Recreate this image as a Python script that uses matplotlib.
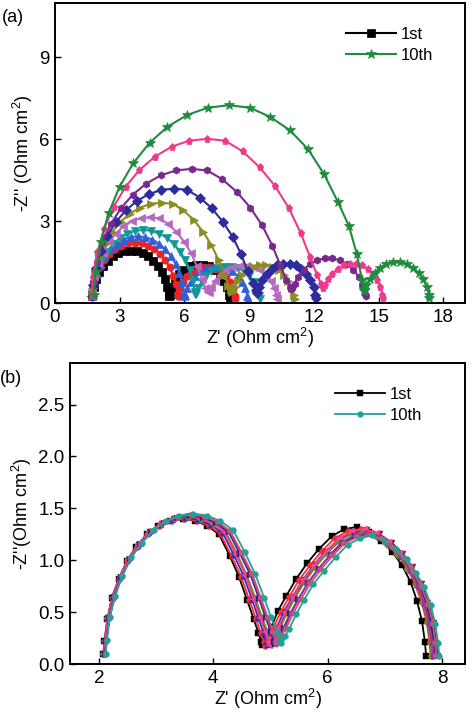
import numpy as np
import matplotlib
matplotlib.use("Agg")
import matplotlib.pyplot as plt

plt.rcParams['font.family'] = ['Liberation Sans', 'DejaVu Sans']
plt.rcParams['mathtext.fontset'] = 'custom'
plt.rcParams['mathtext.rm'] = 'Liberation Sans'

# ---------------- panel (a): 1st ... 10th cycle ----------------
a_labels = ["1st", "2nd", "3rd", "4th", "5th", "6th", "7th", "8th", "9th", "10th"]
a_colors = ["#000000", "#ee2222", "#3060d8", "#109898", "#b868c0",
            "#8c8c22", "#2c2c9c", "#7a2890", "#ee3a8c", "#1e8c3c"]
a_markers = ["s", "o", "^", "v", "<", ">", "D", "h", "p", "*"]

a_re = [
    [1.70, 1.72, 1.79, 1.90, 2.04, 2.23, 2.44, 2.68, 2.94, 3.22, 3.50, 3.78, 4.06, 4.32, 4.56, 4.77, 4.96, 5.10, 5.21, 5.28, 5.30,
     5.33, 5.42, 5.57, 5.76, 6.00, 6.27, 6.55, 6.85, 7.13, 7.40, 7.64, 7.83, 7.98, 8.07, 8.10],
    [1.70, 1.72, 1.80, 1.92, 2.08, 2.29, 2.52, 2.79, 3.08, 3.39, 3.70, 4.01, 4.32, 4.61, 4.88, 5.11, 5.32, 5.48, 5.60, 5.68, 5.70,
     5.73, 5.81, 5.95, 6.14, 6.36, 6.62, 6.89, 7.16, 7.43, 7.69, 7.91, 8.10, 8.24, 8.32, 8.35],
    [1.70, 1.73, 1.81, 1.93, 2.11, 2.33, 2.59, 2.87, 3.19, 3.52, 3.85, 4.18, 4.51, 4.83, 5.11, 5.37, 5.59, 5.77, 5.90, 5.97, 6.00,
     6.03, 6.13, 6.28, 6.49, 6.74, 7.02, 7.32, 7.63, 7.93, 8.21, 8.46, 8.67, 8.82, 8.92, 8.95],
    [1.70, 1.73, 1.82, 1.96, 2.16, 2.40, 2.69, 3.01, 3.36, 3.73, 4.10, 4.47, 4.84, 5.19, 5.51, 5.80, 6.04, 6.24, 6.38, 6.47, 6.50,
     6.53, 6.63, 6.79, 7.00, 7.25, 7.54, 7.84, 8.16, 8.46, 8.75, 9.00, 9.21, 9.37, 9.47, 9.50],
    [1.70, 1.73, 1.83, 1.99, 2.22, 2.49, 2.81, 3.17, 3.57, 3.98, 4.40, 4.82, 5.23, 5.63, 5.99, 6.31, 6.58, 6.81, 6.97, 7.07, 7.10,
     7.14, 7.24, 7.41, 7.63, 7.90, 8.21, 8.53, 8.87, 9.19, 9.50, 9.77, 9.99, 10.16, 10.26, 10.30],
    [1.70, 1.74, 1.86, 2.05, 2.32, 2.65, 3.04, 3.47, 3.95, 4.44, 4.95, 5.46, 5.95, 6.43, 6.86, 7.25, 7.58, 7.85, 8.04, 8.16, 8.20,
     8.23, 8.33, 8.48, 8.68, 8.93, 9.20, 9.50, 9.80, 10.10, 10.38, 10.62, 10.82, 10.98, 11.07, 11.10],
    [1.70, 1.75, 1.89, 2.12, 2.43, 2.82, 3.28, 3.79, 4.34, 4.93, 5.53, 6.12, 6.71, 7.26, 7.77, 8.23, 8.62, 8.93, 9.16, 9.30, 9.35,
     9.38, 9.47, 9.61, 9.81, 10.04, 10.30, 10.58, 10.87, 11.15, 11.41, 11.65, 11.84, 11.98, 12.07, 12.10],
    [1.70, 1.76, 1.93, 2.20, 2.58, 3.06, 3.61, 4.23, 4.90, 5.60, 6.33, 7.05, 7.75, 8.43, 9.05, 9.60, 10.07, 10.45, 10.72, 10.90, 10.95,
     10.99, 11.10, 11.28, 11.52, 11.81, 12.14, 12.49, 12.86, 13.21, 13.54, 13.83, 14.07, 14.25, 14.36, 14.40],
    [1.70, 1.76, 1.96, 2.28, 2.72, 3.27, 3.90, 4.62, 5.40, 6.22, 7.05, 7.88, 8.70, 9.48, 10.20, 10.83, 11.38, 11.82, 12.14, 12.33, 12.40,
     12.43, 12.52, 12.67, 12.86, 13.10, 13.37, 13.65, 13.95, 14.23, 14.50, 14.74, 14.93, 15.08, 15.17, 15.20],
    [1.80, 1.88, 2.11, 2.48, 2.99, 3.63, 4.38, 5.21, 6.12, 7.08, 8.05, 9.03, 9.98, 10.89, 11.73, 12.47, 13.11, 13.62, 13.99, 14.23, 14.30,
     14.33, 14.43, 14.59, 14.81, 15.06, 15.35, 15.67, 15.99, 16.30, 16.59, 16.85, 17.06, 17.22, 17.32, 17.35],
]
a_im = [
    [0.25, 0.30, 0.59, 0.87, 1.13, 1.36, 1.55, 1.71, 1.83, 1.90, 1.92, 1.90, 1.83, 1.71, 1.55, 1.36, 1.13, 0.87, 0.59, 0.30, 0.25,
     0.30, 0.58, 0.83, 1.06, 1.23, 1.35, 1.41, 1.41, 1.35, 1.23, 1.06, 0.83, 0.58, 0.30, 0.15],
    [0.25, 0.35, 0.69, 1.01, 1.31, 1.57, 1.80, 1.98, 2.11, 2.19, 2.22, 2.19, 2.11, 1.98, 1.80, 1.57, 1.31, 1.01, 0.69, 0.35, 0.25,
     0.27, 0.54, 0.78, 0.98, 1.14, 1.26, 1.31, 1.31, 1.26, 1.14, 0.98, 0.78, 0.54, 0.27, 0.15],
    [0.25, 0.38, 0.76, 1.11, 1.44, 1.73, 1.98, 2.18, 2.33, 2.42, 2.45, 2.42, 2.33, 2.18, 1.98, 1.73, 1.44, 1.11, 0.76, 0.38, 0.28,
     0.30, 0.55, 0.79, 1.00, 1.17, 1.28, 1.34, 1.34, 1.28, 1.17, 1.00, 0.79, 0.55, 0.28, 0.15],
    [0.25, 0.42, 0.83, 1.22, 1.58, 1.89, 2.17, 2.39, 2.55, 2.65, 2.68, 2.65, 2.55, 2.39, 2.17, 1.89, 1.58, 1.22, 0.83, 0.42, 0.32,
     0.34, 0.55, 0.79, 1.00, 1.17, 1.28, 1.34, 1.34, 1.28, 1.17, 1.00, 0.79, 0.55, 0.28, 0.15],
    [0.25, 0.49, 0.97, 1.43, 1.85, 2.23, 2.55, 2.81, 3.00, 3.11, 3.15, 3.11, 2.91, 2.61, 2.24, 1.83, 1.35, 0.89, 0.54, 0.45, 0.40,
     0.42, 0.58, 0.81, 1.03, 1.20, 1.31, 1.37, 1.37, 1.31, 1.20, 1.03, 0.81, 0.56, 0.29, 0.15],
    [0.25, 0.57, 1.14, 1.67, 2.16, 2.60, 2.98, 3.28, 3.50, 3.64, 3.68, 3.64, 3.40, 3.05, 2.62, 2.13, 1.58, 1.04, 0.64, 0.48, 0.42,
     0.45, 0.60, 0.82, 1.04, 1.21, 1.33, 1.39, 1.39, 1.33, 1.21, 1.04, 0.82, 0.57, 0.29, 0.15],
    [0.25, 0.66, 1.30, 1.91, 2.47, 2.97, 3.40, 3.74, 3.99, 4.15, 4.20, 4.15, 3.87, 3.48, 2.99, 2.44, 1.80, 1.18, 0.73, 0.50, 0.37,
     0.40, 0.60, 0.85, 1.08, 1.26, 1.38, 1.44, 1.44, 1.38, 1.26, 1.08, 0.85, 0.59, 0.30, 0.18],
    [0.25, 0.77, 1.52, 2.23, 2.89, 3.48, 3.98, 4.38, 4.68, 4.86, 4.92, 4.86, 4.54, 4.07, 3.50, 2.85, 2.11, 1.38, 0.85, 0.58, 0.52,
     0.56, 0.72, 0.97, 1.23, 1.43, 1.57, 1.64, 1.64, 1.57, 1.43, 1.23, 0.97, 0.67, 0.34, 0.25],
    [0.25, 0.94, 1.86, 2.73, 3.54, 4.26, 4.87, 5.36, 5.73, 5.95, 6.02, 5.95, 5.56, 4.98, 4.29, 3.49, 2.58, 1.69, 1.04, 0.70, 0.55,
     0.60, 0.68, 0.87, 1.08, 1.26, 1.38, 1.44, 1.44, 1.38, 1.26, 1.08, 0.85, 0.59, 0.30, 0.20],
    [0.30, 1.13, 2.24, 3.29, 4.26, 5.13, 5.87, 6.46, 6.89, 7.16, 7.25, 7.16, 6.82, 6.33, 5.64, 4.72, 3.71, 2.83, 1.79, 0.85, 0.45,
     0.50, 0.65, 0.88, 1.11, 1.30, 1.43, 1.49, 1.49, 1.43, 1.30, 1.11, 0.88, 0.61, 0.31, 0.20],
]

# ---------------- panel (b): 1st ... 10th cycle ----------------
b_labels = ["1st", "2nd", "3rd", "4th", "5th", "6th", "7th", "8th", "9th", "10th"]
b_colors = ["#000000", "#ff2a2a", "#2233cc", "#8b1a2a", "#6e8e24",
            "#ff3c96", "#1c2488", "#9a30aa", "#d0506a", "#24a09a"]
b_markers = ["s", "o", "^", "v", "D", "<", ">", "h", "p", "o"]

b_re = [
    [2.08, 2.10, 2.15, 2.23, 2.35, 2.49, 2.65, 2.84, 3.04, 3.25, 3.47, 3.69, 3.90, 4.10, 4.29, 4.45, 4.59, 4.71, 4.79, 4.84, 4.86,
     4.88, 4.93, 5.02, 5.13, 5.28, 5.45, 5.64, 5.85, 6.07, 6.29, 6.51, 6.73, 6.94, 7.13, 7.30, 7.45, 7.56, 7.65, 7.70, 7.72],
    [2.08, 2.10, 2.15, 2.23, 2.35, 2.49, 2.66, 2.85, 3.05, 3.27, 3.49, 3.71, 3.93, 4.13, 4.32, 4.49, 4.63, 4.75, 4.83, 4.88, 4.90,
     4.92, 4.97, 5.06, 5.18, 5.33, 5.50, 5.69, 5.90, 6.12, 6.35, 6.58, 6.80, 7.01, 7.20, 7.38, 7.52, 7.64, 7.73, 7.78, 7.80],
    [2.09, 2.11, 2.16, 2.25, 2.36, 2.51, 2.68, 2.87, 3.08, 3.30, 3.52, 3.74, 3.96, 4.17, 4.36, 4.53, 4.68, 4.79, 4.88, 4.93, 4.95,
     4.97, 5.02, 5.11, 5.23, 5.38, 5.55, 5.74, 5.95, 6.17, 6.40, 6.63, 6.85, 7.06, 7.25, 7.43, 7.57, 7.69, 7.78, 7.83, 7.85],
    [2.10, 2.12, 2.17, 2.26, 2.38, 2.53, 2.70, 2.89, 3.10, 3.32, 3.55, 3.78, 4.00, 4.21, 4.40, 4.58, 4.72, 4.84, 4.93, 4.98, 5.00,
     5.02, 5.07, 5.16, 5.28, 5.43, 5.60, 5.80, 6.01, 6.23, 6.46, 6.69, 6.91, 7.12, 7.32, 7.49, 7.64, 7.76, 7.85, 7.90, 7.92],
    [2.10, 2.12, 2.17, 2.26, 2.38, 2.53, 2.70, 2.90, 3.11, 3.33, 3.56, 3.79, 4.01, 4.22, 4.42, 4.59, 4.74, 4.86, 4.95, 5.00, 5.02,
     5.04, 5.09, 5.17, 5.29, 5.43, 5.60, 5.78, 5.99, 6.20, 6.42, 6.64, 6.85, 7.06, 7.24, 7.41, 7.56, 7.67, 7.75, 7.80, 7.82],
    [2.09, 2.11, 2.16, 2.25, 2.37, 2.51, 2.69, 2.88, 3.09, 3.31, 3.54, 3.76, 3.98, 4.19, 4.39, 4.56, 4.70, 4.82, 4.91, 4.96, 4.98,
     5.00, 5.05, 5.14, 5.26, 5.40, 5.57, 5.77, 5.98, 6.20, 6.42, 6.65, 6.86, 7.07, 7.27, 7.44, 7.59, 7.71, 7.80, 7.84, 7.86],
    [2.11, 2.13, 2.18, 2.27, 2.39, 2.55, 2.72, 2.92, 3.14, 3.36, 3.60, 3.83, 4.05, 4.27, 4.47, 4.65, 4.80, 4.92, 5.01, 5.06, 5.08,
     5.10, 5.15, 5.23, 5.35, 5.49, 5.66, 5.84, 6.05, 6.26, 6.48, 6.70, 6.91, 7.12, 7.30, 7.47, 7.62, 7.73, 7.81, 7.86, 7.88],
    [2.11, 2.13, 2.18, 2.27, 2.40, 2.55, 2.73, 2.93, 3.14, 3.37, 3.61, 3.84, 4.07, 4.28, 4.48, 4.66, 4.81, 4.94, 5.03, 5.08, 5.10,
     5.12, 5.17, 5.25, 5.36, 5.50, 5.66, 5.85, 6.05, 6.26, 6.47, 6.68, 6.89, 7.09, 7.28, 7.44, 7.58, 7.69, 7.77, 7.82, 7.84],
    [2.12, 2.14, 2.19, 2.28, 2.41, 2.56, 2.74, 2.94, 3.16, 3.39, 3.62, 3.85, 4.08, 4.30, 4.50, 4.68, 4.83, 4.96, 5.05, 5.10, 5.12,
     5.14, 5.19, 5.27, 5.39, 5.53, 5.69, 5.88, 6.08, 6.29, 6.51, 6.73, 6.94, 7.14, 7.33, 7.49, 7.64, 7.76, 7.84, 7.88, 7.90],
    [2.12, 2.14, 2.19, 2.29, 2.41, 2.57, 2.75, 2.96, 3.18, 3.41, 3.65, 3.89, 4.12, 4.35, 4.55, 4.73, 4.89, 5.01, 5.11, 5.16, 5.18,
     5.20, 5.25, 5.33, 5.45, 5.59, 5.75, 5.94, 6.14, 6.35, 6.57, 6.78, 6.99, 7.19, 7.38, 7.54, 7.69, 7.80, 7.88, 7.93, 7.95],
]
b_im = [
    [0.10, 0.22, 0.43, 0.64, 0.82, 0.99, 1.13, 1.25, 1.33, 1.38, 1.40, 1.38, 1.33, 1.25, 1.04, 0.84, 0.62, 0.43, 0.30, 0.21, 0.18,
     0.25, 0.29, 0.36, 0.51, 0.66, 0.82, 0.97, 1.11, 1.23, 1.30, 1.32, 1.27, 1.19, 1.08, 0.95, 0.79, 0.61, 0.41, 0.21, 0.08],
    [0.10, 0.22, 0.43, 0.64, 0.82, 0.99, 1.13, 1.25, 1.33, 1.38, 1.40, 1.38, 1.33, 1.25, 1.04, 0.84, 0.62, 0.43, 0.30, 0.21, 0.17,
     0.25, 0.29, 0.36, 0.50, 0.65, 0.81, 0.95, 1.09, 1.21, 1.28, 1.30, 1.26, 1.18, 1.07, 0.93, 0.78, 0.60, 0.41, 0.21, 0.08],
    [0.10, 0.22, 0.44, 0.64, 0.83, 1.00, 1.14, 1.26, 1.34, 1.39, 1.41, 1.39, 1.34, 1.26, 1.05, 0.85, 0.62, 0.44, 0.30, 0.21, 0.18,
     0.25, 0.28, 0.35, 0.50, 0.64, 0.80, 0.94, 1.08, 1.19, 1.26, 1.28, 1.24, 1.16, 1.05, 0.92, 0.76, 0.59, 0.40, 0.20, 0.08],
    [0.10, 0.22, 0.44, 0.64, 0.83, 1.00, 1.15, 1.27, 1.35, 1.40, 1.42, 1.40, 1.35, 1.27, 1.06, 0.85, 0.63, 0.44, 0.31, 0.21, 0.18,
     0.25, 0.28, 0.36, 0.50, 0.65, 0.81, 0.95, 1.08, 1.20, 1.27, 1.29, 1.25, 1.17, 1.06, 0.93, 0.77, 0.59, 0.40, 0.20, 0.08],
    [0.10, 0.22, 0.44, 0.64, 0.83, 1.00, 1.15, 1.27, 1.35, 1.40, 1.42, 1.40, 1.35, 1.27, 1.06, 0.85, 0.63, 0.44, 0.31, 0.21, 0.18,
     0.25, 0.28, 0.35, 0.49, 0.64, 0.79, 0.93, 1.07, 1.19, 1.25, 1.27, 1.23, 1.15, 1.04, 0.91, 0.76, 0.59, 0.40, 0.20, 0.08],
    [0.10, 0.22, 0.44, 0.65, 0.84, 1.01, 1.16, 1.27, 1.36, 1.41, 1.43, 1.41, 1.36, 1.27, 1.06, 0.86, 0.63, 0.44, 0.31, 0.21, 0.18,
     0.25, 0.29, 0.36, 0.50, 0.65, 0.81, 0.95, 1.09, 1.21, 1.28, 1.30, 1.26, 1.18, 1.07, 0.93, 0.78, 0.60, 0.41, 0.21, 0.08],
    [0.10, 0.22, 0.44, 0.65, 0.84, 1.01, 1.16, 1.27, 1.36, 1.41, 1.43, 1.41, 1.36, 1.27, 1.06, 0.86, 0.63, 0.44, 0.31, 0.21, 0.19,
     0.25, 0.27, 0.35, 0.49, 0.63, 0.78, 0.92, 1.05, 1.17, 1.23, 1.25, 1.21, 1.13, 1.03, 0.90, 0.75, 0.58, 0.39, 0.20, 0.08],
    [0.10, 0.22, 0.44, 0.65, 0.85, 1.02, 1.16, 1.28, 1.37, 1.42, 1.44, 1.42, 1.37, 1.28, 1.07, 0.87, 0.64, 0.44, 0.31, 0.21, 0.19,
     0.25, 0.28, 0.35, 0.49, 0.63, 0.79, 0.92, 1.06, 1.18, 1.24, 1.26, 1.22, 1.14, 1.04, 0.90, 0.75, 0.58, 0.40, 0.20, 0.08],
    [0.10, 0.22, 0.44, 0.65, 0.85, 1.02, 1.16, 1.28, 1.37, 1.42, 1.44, 1.42, 1.37, 1.28, 1.07, 0.87, 0.64, 0.44, 0.31, 0.21, 0.19,
     0.25, 0.27, 0.34, 0.48, 0.62, 0.77, 0.91, 1.04, 1.16, 1.22, 1.24, 1.20, 1.12, 1.02, 0.89, 0.74, 0.57, 0.39, 0.20, 0.08],
    [0.10, 0.23, 0.45, 0.66, 0.85, 1.03, 1.17, 1.29, 1.38, 1.43, 1.45, 1.43, 1.38, 1.29, 1.08, 0.87, 0.64, 0.45, 0.31, 0.21, 0.20,
     0.25, 0.27, 0.34, 0.48, 0.62, 0.77, 0.90, 1.03, 1.15, 1.21, 1.24, 1.19, 1.11, 1.01, 0.88, 0.74, 0.57, 0.39, 0.20, 0.08],
]

fig = plt.figure(figsize=(4.74, 7.15), dpi=100)
ax1 = fig.add_axes([0.116, 0.576, 0.865, 0.420])
ax2 = fig.add_axes([0.148, 0.0713, 0.833, 0.421])

lines_a = []
for i in range(10):
    ms = 7.0 if a_markers[i] == "*" else 5.2
    l, = ax1.plot(a_re[i], a_im[i], color=a_colors[i], marker=a_markers[i],
                  ms=ms, lw=1.5, mew=0.5, label=a_labels[i])
    lines_a.append(l)

lines_b = []
for i in range(10):
    l, = ax2.plot(b_re[i], b_im[i], color=b_colors[i], marker=b_markers[i],
                  ms=4.2, lw=1.3, mew=0.3, label=b_labels[i])
    lines_b.append(l)

ax1.set_xlim(0, 19)
ax1.set_ylim(0, 11)
ax1.set_xticks([0, 3, 6, 9, 12, 15, 18])
ax1.set_yticks([0, 3, 6, 9])
ax1.set_xlabel("Z' (Ohm cm$^2$)", fontsize=13, labelpad=0)
ax1.set_ylabel("-Z'' (Ohm cm$^2$)", fontsize=13, labelpad=3)
ax1.legend([lines_a[0], lines_a[9]], ["1st", "10th"], loc="upper right",
           bbox_to_anchor=(0.96, 0.97), frameon=False, fontsize=12,
           handlelength=3.0, handletextpad=0.3, labelspacing=0.35)

ax2.set_xlim(1.5, 8.4)
ax2.set_ylim(0, 2.9)
ax2.set_xticks([2, 4, 6, 8])
ax2.set_yticks([0.0, 0.5, 1.0, 1.5, 2.0, 2.5])
ax2.set_yticklabels(["0.0", "0.5", "1.0", "1.5", "2.0", "2.5"])
ax2.set_xlabel("Z' (Ohm cm$^2$)", fontsize=13, labelpad=0)
ax2.set_ylabel("-Z''(Ohm cm$^2$)", fontsize=13, labelpad=3)
ax2.legend([lines_b[0], lines_b[9]], ["1st", "10th"], loc="upper right",
           bbox_to_anchor=(0.93, 0.97), frameon=False, fontsize=12,
           handlelength=3.0, handletextpad=0.3, labelspacing=0.35)

for ax in (ax1, ax2):
    ax.tick_params(direction="in", length=4, width=1.0, labelsize=13.5,
                   top=False, right=False, pad=4)
    for s in ax.spines.values():
        s.set_linewidth(1.4)

fig.text(0.005, 0.988, "(a)", fontsize=13, va="top", ha="left")
fig.text(0.0, 0.482, "(b)", fontsize=13, va="top", ha="left")

fig.savefig("out.png", dpi=100)
